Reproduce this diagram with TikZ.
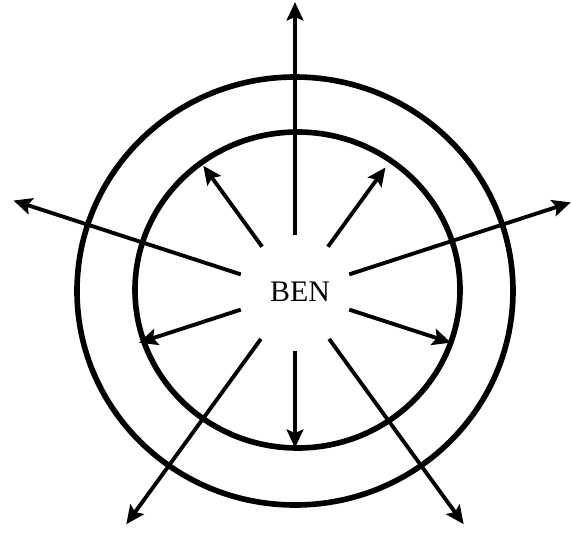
\documentclass[tikz,border=0pt]{standalone}
\usepackage{fontspec}
\setmainfont{Liberation Serif}
\usetikzlibrary{arrows.meta}

\begin{document}
\begin{tikzpicture}[x=0.02cm, y=0.02cm, ring/.style={line width=3.2pt}, ray/.style={-{Stealth[length=10.5pt, width=9.5pt, inset=2pt]}, line width=2.2pt}]
    \useasboundingbox (-295,-243) rectangle (276,292);
    \node (ben) at (5,0) {\fontsize{17}{20}\selectfont BEN};
    \draw[ring] (0,1) circle [x radius=218, y radius=214];
    \draw[ring] (2.5,2) circle [x radius=162.5, y radius=158];

    \coordinate (up0) at (90:57);    \coordinate (up1) at (90:290);
    \coordinate (ur0) at (54:56);    \coordinate (ur1) at (54:154);
    \coordinate (rt0) at (18:57);    \coordinate (rt1) at (18:290);
    \coordinate (lr0) at (-18:57);   \coordinate (lr1) at (-18:164);
    \coordinate (dr0) at (-54:58);   \coordinate (dr1) at (-54:287);
    \coordinate (dn0) at (-90:59);   \coordinate (dn1) at (-90:156);
    \coordinate (dl0) at (-126:58);  \coordinate (dl1) at (-126:287);
    \coordinate (ll0) at (-162:57);  \coordinate (ll1) at (-162:164);
    \coordinate (lt0) at (162:57);   \coordinate (lt1) at (162:296);
    \coordinate (ul0) at (126:56);   \coordinate (ul1) at (126:156);

    \draw[ray] (up0) -- (up1);
    \draw[ray] (ur0) -- (ur1);
    \draw[ray] (rt0) -- (rt1);
    \draw[ray] (lr0) -- (lr1);
    \draw[ray] (dr0) -- (dr1);
    \draw[ray] (dn0) -- (dn1);
    \draw[ray] (dl0) -- (dl1);
    \draw[ray] (ll0) -- (ll1);
    \draw[ray] (lt0) -- (lt1);
    \draw[ray] (ul0) -- (ul1);
\end{tikzpicture}
\end{document}
